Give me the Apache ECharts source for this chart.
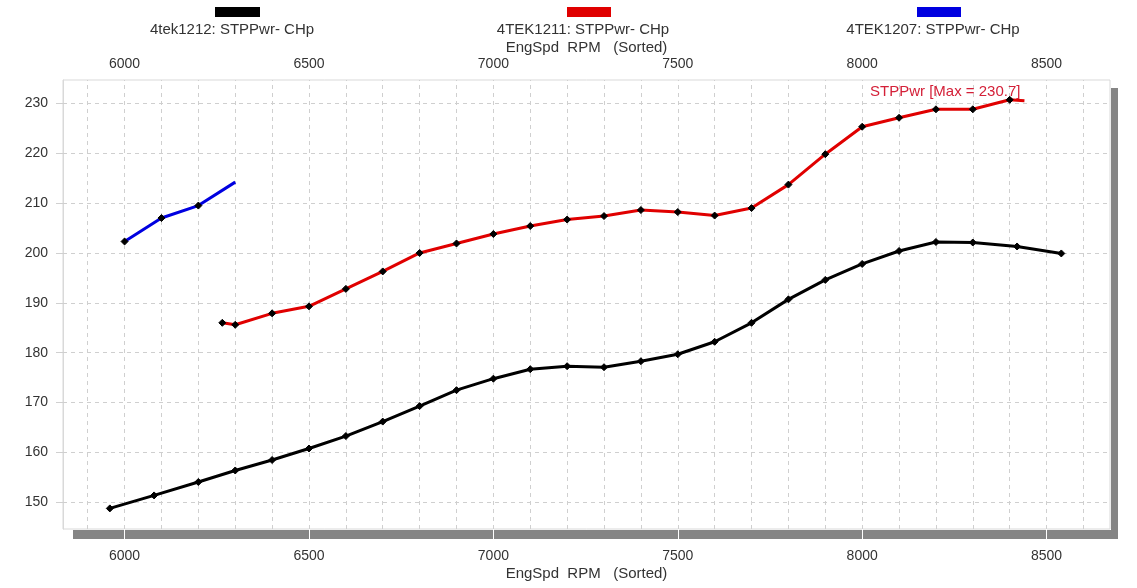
<!DOCTYPE html>
<html>
<head>
<meta charset="utf-8">
<script src="https://cdn.jsdelivr.net/npm/echarts@6/dist/echarts.min.js"></script>
<style>
html,body{margin:0;padding:0;background:#fff;}
#chart{width:1137px;height:588px;}
</style>
</head>
<body>
<div id="chart"></div>
<script>
// ---- data ----
const seriesNames = ['4tek1212: STPPwr- CHp', '4TEK1211: STPPwr- CHp', '4TEK1207: STPPwr- CHp'];
const blackRpm = [5960, 6080, 6200, 6300, 6400, 6500, 6600, 6700, 6800, 6900, 7000, 7100, 7200, 7300, 7400, 7500, 7600, 7700, 7800, 7900, 8000, 8100, 8200, 8300, 8420, 8540];
const blackPwr = [148.8, 151.4, 154.1, 156.4, 158.5, 160.8, 163.3, 166.2, 169.3, 172.5, 174.8, 176.7, 177.3, 177.1, 178.3, 179.7, 182.2, 186.0, 190.7, 194.6, 197.8, 200.4, 202.2, 202.1, 201.3, 199.9];
const redRpm = [6265, 6300, 6400, 6500, 6600, 6700, 6800, 6900, 7000, 7100, 7200, 7300, 7400, 7500, 7600, 7700, 7800, 7900, 8000, 8100, 8200, 8300, 8400, 8440];
const redPwr = [186.0, 185.6, 187.9, 189.3, 192.8, 196.3, 200.0, 201.9, 203.8, 205.4, 206.7, 207.4, 208.6, 208.2, 207.5, 209.0, 213.7, 219.8, 225.3, 227.1, 228.8, 228.8, 230.7, 230.5];
const blueRpm = [6000, 6100, 6200, 6300];
const bluePwr = [202.3, 207.0, 209.5, 214.2];
const xTickLabels = [6000, 6500, 7000, 7500, 8000, 8500];
const yTickLabels = [150, 160, 170, 180, 190, 200, 210, 220, 230];
const xGridValues = [5900, 6000, 6100, 6200, 6300, 6400, 6500, 6600, 6700, 6800, 6900, 7000, 7100, 7200, 7300, 7400, 7500, 7600, 7700, 7800, 7900, 8000, 8100, 8200, 8300, 8400, 8500, 8600];
const xRange = [5833, 8672];
const yRange = [144.67, 234.67];
const axisName = 'EngSpd  RPM   (Sorted)';
const maxLabel = 'STPPwr [Max = 230.7]';

const FONT = '"Liberation Sans", Arial, sans-serif';
const colors = ['#000000', '#e00000', '#0000e0'];

function pairs(xs, ys, noMarkerLast) {
  return xs.map((x, i) => {
    const d = { value: [x, ys[i]] };
    if (noMarkerLast && i === xs.length - 1) d.symbol = 'none';
    return d;
  });
}

const chart = echarts.init(document.getElementById('chart'), null, { renderer: 'canvas' });

const gridMarks = [];
xGridValues.forEach(v => gridMarks.push({ xAxis: v }));
yTickLabels.forEach(v => gridMarks.push({ yAxis: v }));

function lineSeries(name, data, color, width) {
  return {
    name, type: 'line', data, xAxisIndex: 0, yAxisIndex: 0,
    symbol: 'diamond', symbolSize: 7, showSymbol: true,
    itemStyle: { color: '#000', borderColor: '#000', borderWidth: 1 },
    lineStyle: { color, width },
    emphasis: { disabled: true },
    animation: false, z: 3
  };
}

const plainNum = v => String(v);

const option = {
  animation: false,
  grid: { left: 63, right: 27, top: 80, bottom: 59, outerBoundsMode: 'none', show: true, borderColor: '#d9d9d9', borderWidth: 1, backgroundColor: '#fff' },
  xAxis: [
    {
      type: 'value', position: 'bottom', min: xRange[0], max: xRange[1],
      name: axisName, nameLocation: 'middle', nameGap: 37, nameMoveOverlap: false,
      nameTextStyle: { color: '#333', fontSize: 15, fontFamily: FONT },
      axisLine: { show: false },
      axisTick: { show: true, customValues: xTickLabels, length: 10, lineStyle: { color: '#fff', width: 1 } },
      axisLabel: { customValues: xTickLabels, formatter: plainNum, color: '#333', fontSize: 14, fontFamily: FONT, margin: 20 },
      splitLine: { show: false }
    },
    {
      type: 'value', position: 'top', min: xRange[0], max: xRange[1],
      name: axisName, nameLocation: 'middle', nameGap: 25, nameMoveOverlap: false,
      nameTextStyle: { color: '#333', fontSize: 15, fontFamily: FONT },
      axisLine: { show: false },
      axisTick: { show: false, customValues: xTickLabels },
      axisLabel: { customValues: xTickLabels, formatter: plainNum, color: '#333', fontSize: 14, fontFamily: FONT, margin: 9 },
      splitLine: { show: false }
    }
  ],
  yAxis: [{
    type: 'value', min: yRange[0], max: yRange[1],
    axisLine: { show: true, lineStyle: { color: '#d9d9d9' } },
    axisTick: { show: true, customValues: yTickLabels, length: 7, lineStyle: { color: '#d0d0d0' } },
    axisLabel: { customValues: yTickLabels, formatter: plainNum, color: '#333', fontSize: 14, fontFamily: FONT, margin: 15 },
    splitLine: { show: false }
  }],
  series: [
    {
      name: 'grid', type: 'line', data: [], xAxisIndex: 0, yAxisIndex: 0, z: 1, silent: true,
      markLine: {
        z: 1, silent: true, symbol: 'none', animation: false,
        label: { show: false },
        lineStyle: { color: '#cfcfcf', type: [4, 4], width: 1 },
        emphasis: { disabled: true },
        data: gridMarks
      }
    },
    lineSeries(seriesNames[0], pairs(blackRpm, blackPwr, false), colors[0], 3),
    lineSeries(seriesNames[1], pairs(redRpm, redPwr, true), colors[1], 3),
    lineSeries(seriesNames[2], pairs(blueRpm, bluePwr, true), colors[2], 3)
  ],
  graphic: [
    // drop shadow of plot frame
    { type: 'rect', shape: { x: 73, y: 530, width: 1045, height: 9 }, style: { fill: '#858585' }, z: 0 },
    { type: 'rect', shape: { x: 1111, y: 88, width: 7, height: 451 }, style: { fill: '#858585' }, z: 0 },
    // legend swatches and labels
    { type: 'rect', shape: { x: 215, y: 7, width: 45, height: 10 }, style: { fill: colors[0] } },
    { type: 'rect', shape: { x: 567, y: 7, width: 44, height: 10 }, style: { fill: colors[1] } },
    { type: 'rect', shape: { x: 917, y: 7, width: 44, height: 10 }, style: { fill: colors[2] } },
    { type: 'text', x: 232, y: 30, style: { text: seriesNames[0], fill: '#333', font: '15px ' + FONT, align: 'center', verticalAlign: 'middle' } },
    { type: 'text', x: 583, y: 30, style: { text: seriesNames[1], fill: '#333', font: '15px ' + FONT, align: 'center', verticalAlign: 'middle' } },
    { type: 'text', x: 933, y: 30, style: { text: seriesNames[2], fill: '#333', font: '15px ' + FONT, align: 'center', verticalAlign: 'middle' } },
    // max annotation
    { type: 'text', x: 870, y: 92, style: { text: maxLabel, fill: '#d42038', font: '15px ' + FONT, align: 'left', verticalAlign: 'middle' }, z: 10 }
  ]
};
chart.setOption(option);
</script>
</body>
</html>
